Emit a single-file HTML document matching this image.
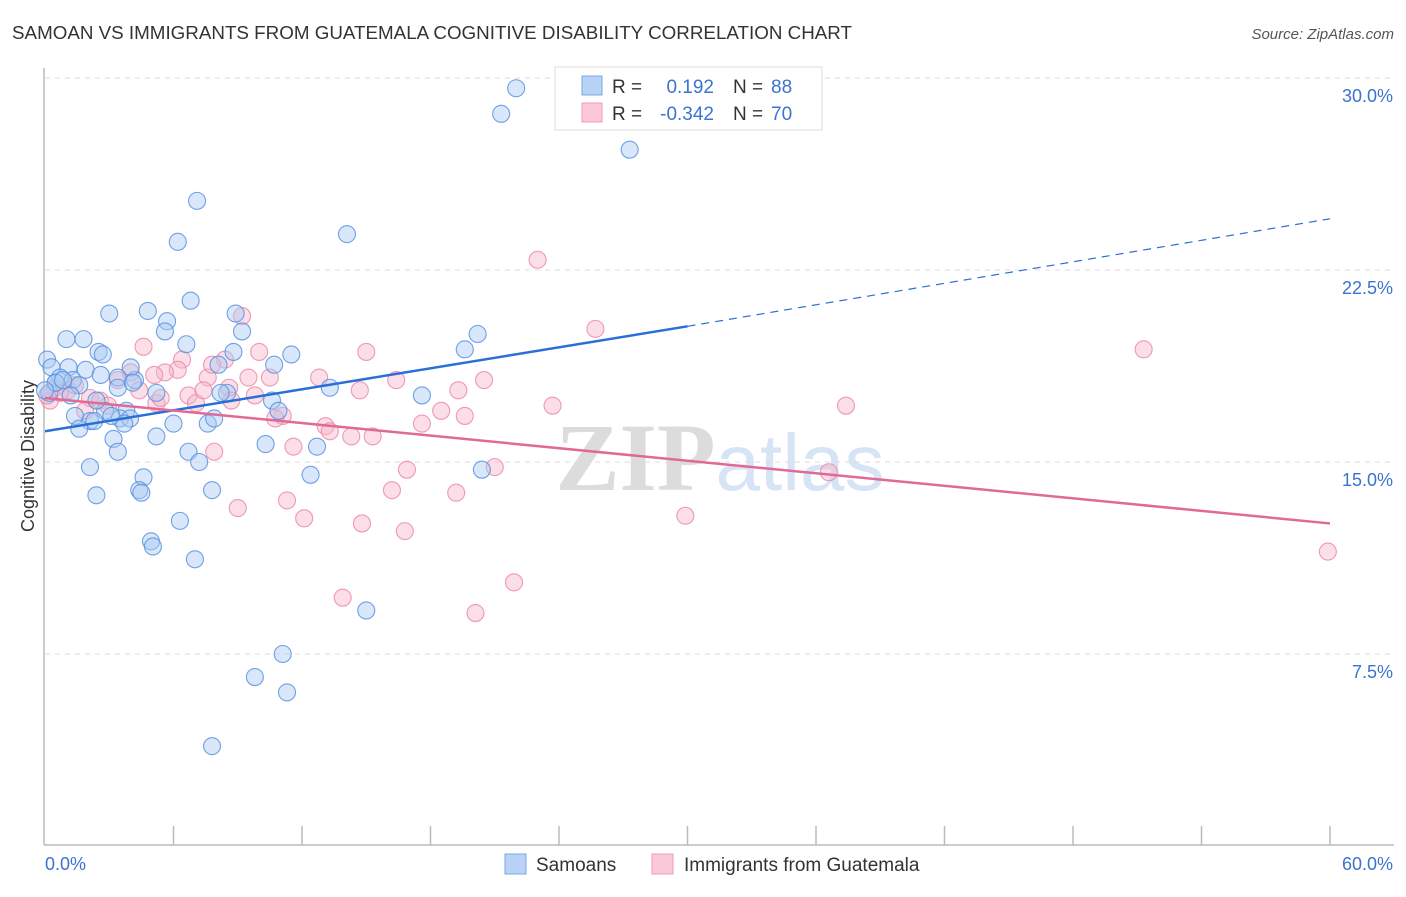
<!DOCTYPE html>
<html><head><meta charset="utf-8"><style>
body{margin:0;background:#fff;font-family:"Liberation Sans",sans-serif;}
svg text{font-family:"Liberation Sans",sans-serif;}
</style></head><body>
<svg id="chart" width="1406" height="892" xmlns="http://www.w3.org/2000/svg">
<text x="12" y="39" font-size="18" fill="#333" textLength="840" lengthAdjust="spacingAndGlyphs">SAMOAN VS IMMIGRANTS FROM GUATEMALA COGNITIVE DISABILITY CORRELATION CHART</text>
<text x="1394" y="39" font-size="15" fill="#555" text-anchor="end" font-style="italic">Source: ZipAtlas.com</text>
<text x="720" y="490" font-size="96" text-anchor="middle"><tspan fill="#dcdcdc" font-family="Liberation Serif" font-weight="bold">ZIP</tspan><tspan fill="#d6e4f5" font-size="80">atlas</tspan></text>
<text transform="translate(34,456) rotate(-90)" font-size="18" fill="#333" text-anchor="middle">Cognitive Disability</text>
<g id="grid"></g><g id="pts"></g><g id="lines"></g>
<g>
<rect x="555" y="67" width="267" height="63" fill="#fff" stroke="#ddd"/>
<rect x="582" y="76" width="20" height="19" fill="#b8d3f5" stroke="#7aa8e8"/>
<rect x="582" y="103" width="20" height="19" fill="#fbc9d8" stroke="#f09ab4"/>
<text x="612" y="93" font-size="19" fill="#333">R =</text>
<text x="714" y="93" font-size="19" fill="#3b73d1" text-anchor="end">0.192</text>
<text x="733" y="93" font-size="19" fill="#333">N =</text>
<text x="771" y="93" font-size="19" fill="#3b73d1">88</text>
<text x="612" y="120" font-size="19" fill="#333">R =</text>
<text x="714" y="120" font-size="19" fill="#3b73d1" text-anchor="end">-0.342</text>
<text x="733" y="120" font-size="19" fill="#333">N =</text>
<text x="771" y="120" font-size="19" fill="#3b73d1">70</text>
</g>
<g>
<rect x="505" y="854" width="21" height="20" fill="#b8d3f5" stroke="#7aa8e8"/>
<text x="536" y="871" font-size="19" fill="#333">Samoans</text>
<rect x="652" y="854" width="21" height="20" fill="#fbc9d8" stroke="#f09ab4"/>
<text x="684" y="871" font-size="19" fill="#333">Immigrants from Guatemala</text>
</g>
</svg>
<script>
const xTicks=[0,10,20,30,40,50,60];
const yTicks=[7.5,15,22.5,30];
const blueX=[22.0,21.3,27.3,7.1,6.2,14.1,3.0,4.8,6.8,8.9,5.7,5.6,9.2,6.6,1.0,1.8,2.5,0.1,0.3,1.1,1.9,2.7,10.7,11.5,8.8,8.1,19.6,20.2,0.7,1.3,0.2,0.5,3.4,4.2,4.0,3.4,4.1,5.2,8.5,8.2,13.3,17.6,10.6,10.9,2.8,3.8,3.5,3.97,3.1,2.4,2.1,1.4,1.6,2.3,3.7,6.0,7.6,7.9,5.2,3.2,3.4,10.3,12.7,6.7,2.1,7.2,20.4,12.4,4.6,4.4,4.5,2.4,7.8,6.3,4.95,5.04,7.0,15.0,11.1,9.8,11.3,7.8,0.5,0.84,2.6,1.6,1.2,0.0];
const blueY=[29.6,28.6,27.2,25.2,23.6,23.9,20.8,20.9,21.3,20.8,20.5,20.1,20.1,19.6,19.8,19.8,19.3,19.0,18.7,18.7,18.6,19.2,18.8,19.2,19.3,18.8,19.4,20.0,18.3,18.2,17.7,18.1,18.3,18.2,18.7,17.9,18.1,17.7,17.7,17.7,17.9,17.6,17.4,17.0,17.0,17.0,16.7,16.7,16.8,17.4,16.6,16.8,16.3,16.6,16.5,16.5,16.5,16.7,16.0,15.9,15.4,15.7,15.6,15.4,14.8,15.0,14.7,14.5,14.4,13.9,13.8,13.7,13.9,12.7,11.9,11.7,11.2,9.2,7.5,6.6,6.0,3.9,18.1,18.2,18.4,18.0,17.6,17.8];
const pinkX=[23.0,25.7,9.2,51.3,37.4,36.6,29.9,59.9,4.6,6.4,15.0,8.4,10.0,4.0,6.2,5.6,7.6,12.8,16.4,20.5,19.3,14.7,8.6,10.5,9.5,9.8,6.7,7.05,5.2,23.7,18.5,19.6,17.6,11.1,10.75,13.1,13.3,14.3,15.3,11.6,7.9,16.9,21.0,16.2,19.2,11.3,9.0,12.1,14.8,16.8,21.9,13.9,20.1,0.23,0.47,1.07,1.4,2.1,2.57,2.94,4.4,3.4,0.7,0.1,1.87,5.4,7.4,5.1,7.8,8.7];
const pinkY=[22.9,20.2,20.7,19.4,17.2,14.6,12.9,11.5,19.5,19.0,19.3,19.0,19.3,18.5,18.6,18.5,18.3,18.3,18.2,18.2,17.8,17.8,17.9,18.3,18.3,17.6,17.6,17.3,17.3,17.2,17.0,16.8,16.5,16.8,16.7,16.4,16.2,16.0,16.0,15.6,15.4,14.7,14.8,13.9,13.8,13.5,13.2,12.8,12.6,12.3,10.3,9.7,9.1,17.4,17.9,17.8,18.0,17.5,17.4,17.2,17.8,18.2,17.7,17.6,17.0,17.5,17.8,18.4,18.8,17.4];
const blueLine=[0,16.2,30,20.3,60,24.5];
const pinkLine=[0,17.5,60,12.6];
const NS='http://www.w3.org/2000/svg';
const X=v=>45+v/60*1285, Y=v=>846-v/7.5*192;
function mk(t,a,p){const e=document.createElementNS(NS,t);for(const k in a)e.setAttribute(k,a[k]);p.appendChild(e);return e;}
const g=document.getElementById('grid');
const ax=mk('line',{x1:44,y1:845,x2:1394,y2:845,stroke:'#bbb','stroke-width':1.5},g);


const ay=mk('line',{x1:44,y1:68,x2:44,y2:845,stroke:'#bbb','stroke-width':1.5},g);


for(let i=1;i<=10;i++){const t=mk('line',{x1:X(i*6),y1:826,x2:X(i*6),y2:845,stroke:'#bbb','stroke-width':1.5},g);

}
yTicks.forEach(v=>{const l=mk('line',{x1:45,y1:Y(v),x2:1394,y2:Y(v),stroke:'#ddd','stroke-dasharray':'5,5'},g);


const t=mk('text',{x:1393,y:Y(v)+24,'font-size':18,fill:'#3b73d1','text-anchor':'end'},g);t.textContent=v.toFixed(1)+'%';

});
[[0,'start',45],[60,'end',1393]].forEach(([v,a,x])=>{const t=mk('text',{x:x,y:870,'font-size':18,fill:'#3b73d1','text-anchor':a},g);t.textContent=v.toFixed(1)+'%';

});
const P=document.getElementById('pts');
function dots(xs,ys,f,s,n){xs.forEach((x,i)=>{const c=mk('circle',{cx:X(x),cy:Y(ys[i]),r:8.5,fill:f,'fill-opacity':0.45,stroke:s,'stroke-width':1.1,'stroke-opacity':0.85},P);

});}
dots(pinkX,pinkY,'#f7b6ca','#ec8aa8','guatemala-point');
dots(blueX,blueY,'#a9c9f2','#5a90e0','samoan-point');
const L=document.getElementById('lines');
const b1=mk('line',{x1:X(blueLine[0]),y1:Y(blueLine[1]),x2:X(blueLine[2]),y2:Y(blueLine[3]),stroke:'#2a6fd6','stroke-width':2.5},L);


const b2=mk('line',{x1:X(blueLine[2]),y1:Y(blueLine[3]),x2:X(blueLine[4]),y2:Y(blueLine[5]),stroke:'#2a6fd6','stroke-width':1.2,'stroke-dasharray':'8,6'},L);


const p1=mk('line',{x1:X(pinkLine[0]),y1:Y(pinkLine[1]),x2:X(pinkLine[2]),y2:Y(pinkLine[3]),stroke:'#e06a95','stroke-width':2.5},L);


</script>
</body></html>
